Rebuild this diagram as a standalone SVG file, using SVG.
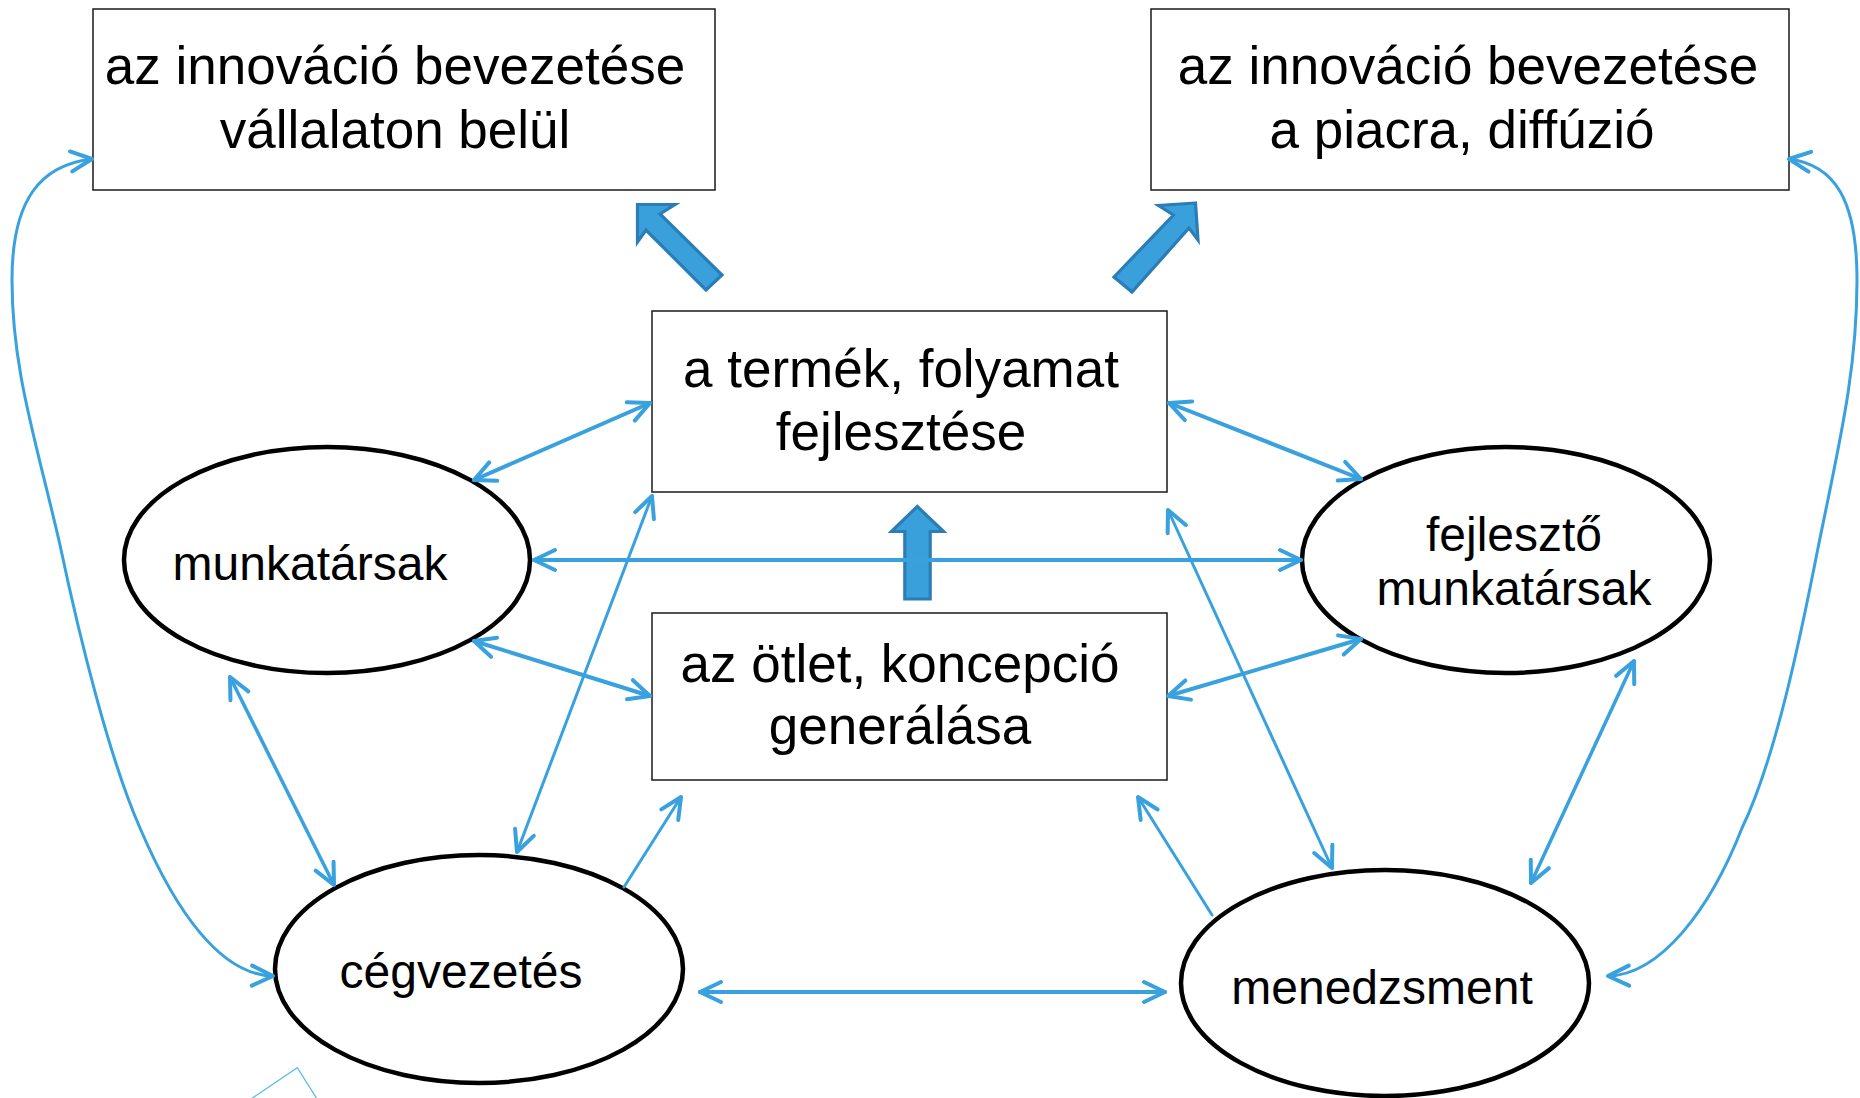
<svg xmlns="http://www.w3.org/2000/svg" width="1860" height="1098" viewBox="0 0 1860 1098">
<defs>
<style>
.box{fill:#fff;stroke:#1a1a1a;stroke-width:1.5}
.ell{fill:#fff;stroke:#000;stroke-width:4.5}
.bt{font-family:"Liberation Sans",Arial,sans-serif;font-size:53px;fill:#000;text-anchor:middle}
.et{font-family:"Liberation Sans",Arial,sans-serif;font-size:48px;fill:#000;text-anchor:middle}
.c{fill:none;stroke:#38A1DE;stroke-linecap:round}
.w{stroke-width:4}
.m{stroke-width:3.5}
.n{stroke-width:3}
.blk{fill:#3AA0DC;stroke:#2A7DB5;stroke-width:3.2;stroke-linejoin:miter}
</style>
<marker id="ah" markerUnits="userSpaceOnUse" markerWidth="30" markerHeight="30" refX="0" refY="0" viewBox="-25 -15 30 30" orient="auto-start-reverse" overflow="visible">
<path d="M -21 -10 L 0 0 L -21 10" fill="none" stroke="#38A1DE" stroke-width="4" stroke-linecap="round" stroke-linejoin="round"/>
</marker>
</defs>
<rect width="1860" height="1098" fill="#fff"/>

<g id="node-bevezetes-belul">
<rect class="box" x="93" y="9" width="622" height="181"/>
<text class="bt" x="395" y="84">az innováció bevezetése</text>
<text class="bt" x="395" y="148">vállalaton belül</text>
</g>

<g id="node-bevezetes-piac">
<rect class="box" x="1151" y="9" width="638" height="181"/>
<text class="bt" x="1468" y="84">az innováció bevezetése</text>
<text class="bt" x="1462" y="148">a piacra, diffúzió</text>
</g>

<g id="node-fejlesztes">
<rect class="box" x="652" y="311" width="515" height="181"/>
<text class="bt" x="901" y="387">a termék, folyamat</text>
<text class="bt" x="901" y="450">fejlesztése</text>
</g>

<g id="node-otlet">
<rect class="box" x="652" y="613" width="515" height="167"/>
<text class="bt" x="900" y="682">az ötlet, koncepció</text>
<text class="bt" x="900" y="744">generálása</text>
</g>

<g id="node-munkatarsak">
<ellipse class="ell" cx="327" cy="560" rx="203" ry="113"/>
<text class="et" x="310" y="580">munkatársak</text>
</g>

<g id="node-fejleszto-munkatarsak">
<ellipse class="ell" cx="1506" cy="560" rx="204" ry="113"/>
<text class="et" x="1514" y="551">fejlesztő</text>
<text class="et" x="1514" y="605">munkatársak</text>
</g>

<g id="node-cegvezetes">
<ellipse class="ell" cx="479" cy="969" rx="204" ry="114"/>
<text class="et" x="461" y="988">cégvezetés</text>
</g>

<g id="node-menedzsment">
<ellipse class="ell" cx="1385" cy="983" rx="204" ry="113"/>
<text class="et" x="1382" y="1004">menedzsment</text>
</g>

<g id="block-arrows">
<polygon class="blk" points="637.5,204.5 675,204.5 660,214 722,275 706,290 646,230 637.5,242"/>
<polygon class="blk" points="1195.5,203 1158.5,205.5 1173.5,215 1114,277 1132,292 1189,228 1198,240"/>
<polygon class="blk" points="917.3,506.5 943.5,531.5 930.2,531.5 930.2,599 904.8,599 904.8,531.5 891.5,531.5"/>
</g>

<g id="connectors">
<line class="c w" x1="474" y1="480" x2="650" y2="403" marker-start="url(#ah)" marker-end="url(#ah)"/>
<line class="c w" x1="1169" y1="403" x2="1361" y2="479" marker-start="url(#ah)" marker-end="url(#ah)"/>
<line class="c w" x1="534" y1="560" x2="1301" y2="560" marker-start="url(#ah)" marker-end="url(#ah)"/>
<line class="c w" x1="474" y1="641" x2="650" y2="696" marker-start="url(#ah)" marker-end="url(#ah)"/>
<line class="c w" x1="1168" y1="696" x2="1361" y2="639" marker-start="url(#ah)" marker-end="url(#ah)"/>
<line class="c m" x1="230" y1="677" x2="334" y2="885" marker-start="url(#ah)" marker-end="url(#ah)"/>
<line class="c n" x1="517" y1="852" x2="652" y2="496" marker-start="url(#ah)" marker-end="url(#ah)"/>
<line class="c n" x1="624" y1="887" x2="681" y2="797" marker-end="url(#ah)"/>
<line class="c w" x1="700" y1="992" x2="1165" y2="992" marker-start="url(#ah)" marker-end="url(#ah)"/>
<line class="c n" x1="1212" y1="915" x2="1138" y2="797" marker-end="url(#ah)"/>
<line class="c n" x1="1168" y1="510" x2="1332" y2="868" marker-start="url(#ah)" marker-end="url(#ah)"/>
<line class="c m" x1="1634" y1="661" x2="1531" y2="883" marker-start="url(#ah)" marker-end="url(#ah)"/>
<path class="c n" d="M 92 159 C 40 165, 12 200, 12 280 C 12 370, 36 440, 60 545 C 80 640, 110 760, 140 828 C 175 910, 220 975, 273 976" marker-start="url(#ah)" marker-end="url(#ah)"/>
<path class="c n" d="M 1789 159 C 1835 165, 1857 200, 1857 280 C 1857 370, 1840 440, 1818 548 C 1800 640, 1775 760, 1742 828 C 1710 910, 1660 975, 1608 976" marker-start="url(#ah)" marker-end="url(#ah)"/>
</g>

<polyline points="251.7,1098.5 297.3,1067.7 316.7,1098.5" fill="none" stroke="#5BBDEB" stroke-width="1.3"/>
</svg>
